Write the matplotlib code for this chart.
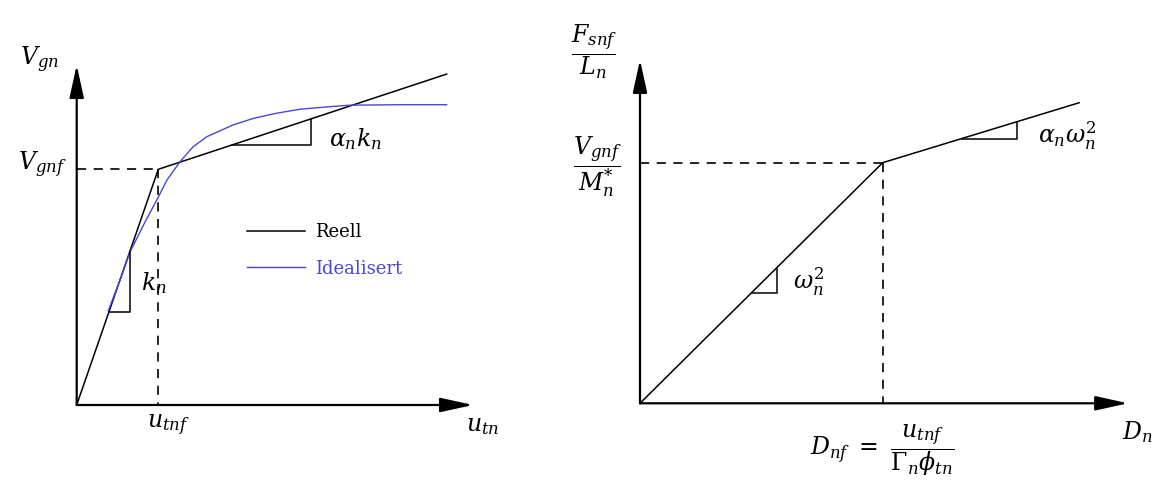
import matplotlib
matplotlib.use("Agg")
import matplotlib.pyplot as plt

plt.rcParams["mathtext.fontset"] = "dejavuserif"

# left panel: V_gn vs u_tn, normalised by the yield point (u_tnf, V_gnf)
reell_u = [0.0, 1.0, 4.534]
reell_v = [0.0, 1.0, 1.404]
ideal_u = [0.387, 0.531, 0.653, 0.837, 1.0, 1.107, 1.266, 1.425, 1.593,
           1.915, 2.164, 2.451, 2.737, 3.043, 3.346, 3.959, 4.534]
ideal_v = [0.400, 0.530, 0.649, 0.776, 0.882, 0.955, 1.032, 1.095, 1.138,
           1.188, 1.216, 1.238, 1.255, 1.264, 1.272, 1.274, 1.274]
kn_tri_u = [0.395, 0.653, 0.653]
kn_tri_v = [0.395, 0.395, 0.653]
akn_tri_u = [1.90, 2.87, 2.87]
akn_tri_v = [1.103, 1.103, 1.214]
left_axis_len = (4.857, 1.4425)

# right panel: F_snf/L_n vs D_n, normalised by (D_nf, V_gnf/M_n*)
cap_d = [0.0, 1.0, 1.809]
cap_f = [0.0, 1.0, 1.249]
w_tri_d = [0.46, 0.563, 0.563]
w_tri_f = [0.46, 0.46, 0.563]
aw_tri_d = [1.325, 1.552, 1.552]
aw_tri_f = [1.10, 1.10, 1.17]
right_axis_len = (2.011, 1.427)

BLUE = "#4646dc"
MATH = 17

fig = plt.figure(figsize=(11.58, 4.86), dpi=100)
axl = fig.add_axes([0, 0, 0.5, 1])
axr = fig.add_axes([0.5, 0, 0.5, 1])
for ax in (axl, axr):
    ax.set_axis_off()
axl.set_xlim(-0.940, 6.156)
axl.set_ylim(-0.3437, 1.7183)
axr.set_xlim(-0.2513, 2.134)
axr.set_ylim(-0.3437, 1.676)


def draw_axes(ax, xlen, ylen):
    arrow = dict(arrowstyle="-|>,head_length=1.0,head_width=0.22",
                 mutation_scale=20, lw=1.6, color="black",
                 shrinkA=0, shrinkB=0)
    ax.annotate("", xy=(xlen, 0), xytext=(0, 0), arrowprops=arrow)
    ax.annotate("", xy=(0, ylen), xytext=(0, 0), arrowprops=arrow)


def dashed_guides(ax):
    ax.plot([0, 1], [1, 1], color="black", lw=1.2, dashes=(5.5, 4.5))
    ax.plot([1, 1], [1, 0], color="black", lw=1.2, dashes=(5.5, 4.5))


# ---- left
draw_axes(axl, *left_axis_len)
dashed_guides(axl)
axl.plot(reell_u, reell_v, color="black", lw=1.1, label="Reell")
axl.plot(ideal_u, ideal_v, color=BLUE, lw=1.0, label="Idealisert")
axl.plot(kn_tri_u, kn_tri_v, color="black", lw=1.1)
axl.plot(akn_tri_u, akn_tri_v, color="black", lw=1.1)

axl.text(-0.45, 1.464, r"$V_{gn}$", fontsize=MATH, ha="center", va="center")
axl.text(-0.12, 1.018, r"$V_{gnf}$", fontsize=MATH, ha="right", va="center")
axl.text(1.12, -0.085, r"$u_{tnf}$", fontsize=MATH, ha="center", va="center")
axl.text(4.97, -0.085, r"$u_{tn}$", fontsize=MATH, ha="center", va="center")
axl.text(0.949, 0.518, r"$k_n$", fontsize=MATH, ha="center", va="center")
axl.text(3.423, 1.129, r"$\alpha_n k_n$", fontsize=MATH, ha="center", va="center")

fig.legend(loc="upper left", bbox_to_anchor=(0.2133, 0.5415),
           frameon=False, borderpad=0, borderaxespad=0,
           handlelength=3.2, handletextpad=0.55, labelspacing=1.05,
           labelcolor="linecolor",
           prop={"family": "DejaVu Serif", "size": 13})

# ---- right
draw_axes(axr, *right_axis_len)
dashed_guides(axr)
axr.plot(cap_d, cap_f, color="black", lw=1.1)
axr.plot(w_tri_d, w_tri_f, color="black", lw=1.1)
axr.plot(aw_tri_d, aw_tri_f, color="black", lw=1.1)

axr.text(-0.19, 1.460, r"$\dfrac{F_{snf}}{L_n}$", fontsize=MATH,
         ha="center", va="center")
axr.text(-0.177, 0.984, r"$\dfrac{V_{gnf}}{M_n^{*}}$", fontsize=MATH,
         ha="center", va="center")
axr.text(1.759, 1.111, r"$\alpha_n\omega_n^2$", fontsize=MATH,
         ha="center", va="center")
axr.text(0.696, 0.504, r"$\omega_n^2$", fontsize=MATH, ha="center", va="center")
axr.text(0.998, -0.194, r"$D_{nf}\ =\ \dfrac{u_{tnf}}{\Gamma_n\phi_{tn}}$",
         fontsize=MATH, ha="center", va="center")
axr.text(2.048, -0.119, r"$D_n$", fontsize=MATH, ha="center", va="center")

fig.savefig("out.png", dpi=100, facecolor="white")
